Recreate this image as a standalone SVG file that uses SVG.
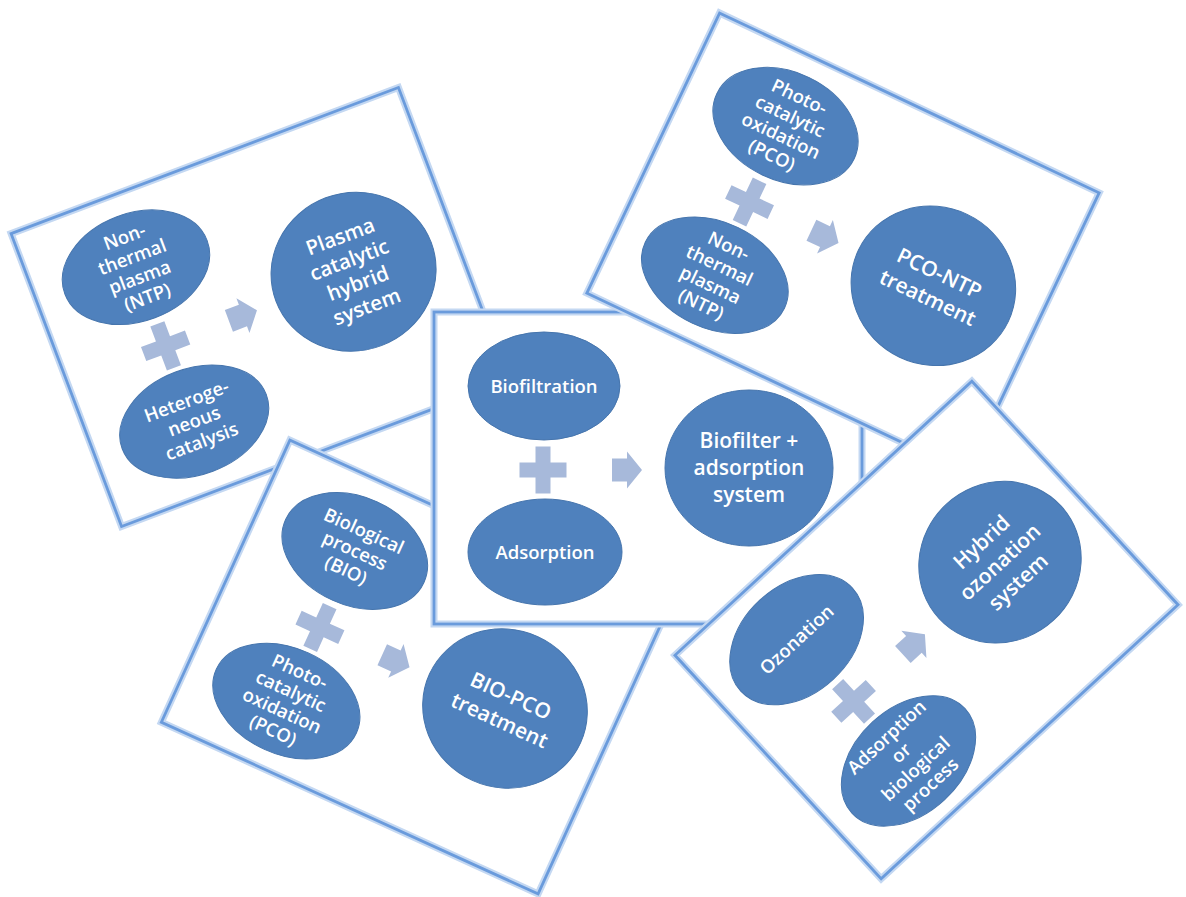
<svg xmlns="http://www.w3.org/2000/svg" width="1186" height="897" viewBox="0 0 1186 897">
<style>
.glow{fill:#fff;stroke:#c4d8f2;stroke-width:7}
.edge{fill:none;stroke:#6a9bdc;stroke-width:2.8}
.node ellipse{fill:#4f81bd;stroke:#4675ad;stroke-width:1}
.sym{fill:#a7b9da}
.t{font-family:"Open Sans","Liberation Sans",sans-serif;fill:#fff;text-anchor:middle;font-weight:600}
.s18{font-size:18.5px}
.s20{font-size:20.5px}
.s21{font-size:21px}
</style>
<defs>
<path id="plus" d="M-7.5,-23.5H7.5V-7.5H23.5V7.5H7.5V23.5H-7.5V7.5H-23.5V-7.5H-7.5Z"/>
<path id="arrow" d="M-15,-11.5H0V-18.5L15,0L0,18.5V11.5H-15Z"/>
</defs>
<rect width="1186" height="897" fill="#fff"/>

<g id="card-ntp-catalysis" transform="translate(260,307) rotate(-20.67)">
<rect class="glow" x="-207" y="-156.5" width="414" height="313"/>
<rect class="edge" x="-207" y="-156.5" width="414" height="313"/>
<g id="c1-ntp" class="node"><ellipse cx="-102" cy="-81" rx="76" ry="54"/>
<text class="t s18"><tspan x="-102" y="-107">Non-</tspan><tspan x="-102" y="-85.5">thermal</tspan><tspan x="-102" y="-64">plasma</tspan><tspan x="-102" y="-42.5">(NTP)</tspan></text></g>
<g id="c1-catalysis" class="node"><ellipse cx="-102" cy="84" rx="77" ry="53"/>
<text class="t s18"><tspan x="-102" y="68.5">Heteroge-</tspan><tspan x="-102" y="90">neous</tspan><tspan x="-102" y="111.5">catalysis</tspan></text></g>
<g id="c1-result" class="node"><ellipse cx="100" cy="0" rx="83" ry="79"/>
<text class="t s20"><tspan x="100" y="-30.5">Plasma</tspan><tspan x="100" y="-5.5">catalytic</tspan><tspan x="100" y="19.5">hybrid</tspan><tspan x="100" y="44.5">system</tspan></text></g>
<g class="connectors"><use href="#plus" class="sym" x="-102" y="3"/><use href="#arrow" class="sym" x="-19" y="2"/></g>
</g>

<g id="card-bio-pco" transform="translate(414,667) rotate(24.5)">
<rect class="glow" x="-207" y="-155" width="414" height="310"/>
<rect class="edge" x="-207" y="-155" width="414" height="310"/>
<g id="c4-bio" class="node"><ellipse cx="-102" cy="-81" rx="76" ry="54"/>
<text class="t s18"><tspan x="-102" y="-96.5">Biological</tspan><tspan x="-102" y="-75">process</tspan><tspan x="-102" y="-53.5">(BIO)</tspan></text></g>
<g id="c4-pco" class="node"><ellipse cx="-102" cy="84" rx="77" ry="53"/>
<text class="t s18"><tspan x="-102" y="58">Photo-</tspan><tspan x="-102" y="79.5">catalytic</tspan><tspan x="-102" y="101">oxidation</tspan><tspan x="-102" y="122.5">(PCO)</tspan></text></g>
<g id="c4-result" class="node"><ellipse cx="100" cy="0" rx="83" ry="79"/>
<text class="t s21"><tspan x="100" y="-6.5">BIO-PCO</tspan><tspan x="100" y="20.5">treatment</tspan></text></g>
<g class="connectors"><use href="#plus" class="sym" x="-102" y="3"/><use href="#arrow" class="sym" x="-19" y="2"/></g>
</g>

<g id="card-biofilter" transform="translate(648,468)">
<rect class="glow" x="-214" y="-156" width="428" height="312"/>
<rect class="edge" x="-214" y="-156" width="428" height="312"/>
<g id="c3-biofiltration" class="node"><ellipse cx="-104" cy="-82" rx="76" ry="54"/>
<text class="t s18" x="-104" y="-75.5">Biofiltration</text></g>
<g id="c3-adsorption" class="node"><ellipse cx="-103" cy="84" rx="77" ry="53"/>
<text class="t s18" x="-103" y="90.5">Adsorption</text></g>
<g id="c3-result" class="node"><ellipse cx="101" cy="0" rx="84" ry="78"/>
<text class="t s21"><tspan x="101" y="-20">Biofilter +</tspan><tspan x="101" y="7">adsorption</tspan><tspan x="101" y="34">system</tspan></text></g>
<g class="connectors"><use href="#plus" class="sym" x="-105" y="2"/><use href="#arrow" class="sym" x="-21" y="2"/></g>
</g>

<g id="card-pco-ntp" transform="translate(843,243) rotate(25.35)">
<rect class="glow" x="-210" y="-155" width="420" height="310"/>
<rect class="edge" x="-210" y="-155" width="420" height="310"/>
<g id="c2-pco" class="node"><ellipse cx="-102" cy="-81" rx="76" ry="54"/>
<text class="t s18"><tspan x="-102" y="-107">Photo-</tspan><tspan x="-102" y="-85.5">catalytic</tspan><tspan x="-102" y="-64">oxidation</tspan><tspan x="-102" y="-42.5">(PCO)</tspan></text></g>
<g id="c2-ntp" class="node"><ellipse cx="-102" cy="84" rx="77" ry="53"/>
<text class="t s18"><tspan x="-102" y="58">Non-</tspan><tspan x="-102" y="79.5">thermal</tspan><tspan x="-102" y="101">plasma</tspan><tspan x="-102" y="122.5">(NTP)</tspan></text></g>
<g id="c2-result" class="node"><ellipse cx="100" cy="0" rx="83" ry="79"/>
<text class="t s21"><tspan x="100" y="-6.5">PCO-NTP</tspan><tspan x="100" y="20.5">treatment</tspan></text></g>
<g class="connectors"><use href="#plus" class="sym" x="-102" y="3"/><use href="#arrow" class="sym" x="-19" y="2"/></g>
</g>

<g id="card-ozonation" transform="translate(926.5,630) rotate(-42.7)">
<rect class="glow" x="-202" y="-152" width="404" height="304"/>
<rect class="edge" x="-202" y="-152" width="404" height="304"/>
<g id="c5-ozonation" class="node"><ellipse cx="-102" cy="-81" rx="76" ry="54"/>
<text class="t s18" x="-102" y="-74.5">Ozonation</text></g>
<g id="c5-adsorption-bio" class="node"><ellipse cx="-102" cy="84" rx="77" ry="53"/>
<text class="t s18"><tspan x="-102" y="58">Adsorption</tspan><tspan x="-102" y="79.5">or</tspan><tspan x="-102" y="101">biological</tspan><tspan x="-102" y="122.5">process</tspan></text></g>
<g id="c5-result" class="node"><ellipse cx="100" cy="0" rx="83" ry="79"/>
<text class="t s21"><tspan x="100" y="-20">Hybrid</tspan><tspan x="100" y="7">ozonation</tspan><tspan x="100" y="34">system</tspan></text></g>
<g class="connectors"><use href="#plus" class="sym" x="-102" y="3"/><use href="#arrow" class="sym" x="-19" y="2"/></g>
</g>
</svg>
